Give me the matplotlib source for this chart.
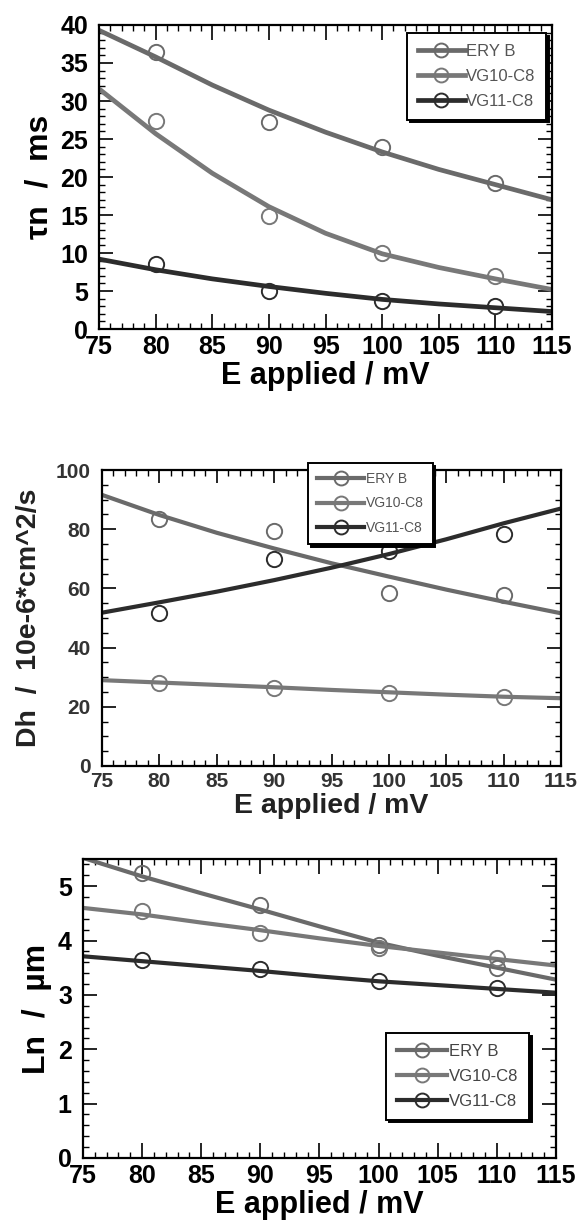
import matplotlib
matplotlib.use("Agg")
import matplotlib.pyplot as plt
from matplotlib.ticker import MultipleLocator

# ---------------- data ----------------
series_names = ["ERY B", "VG10-C8", "VG11-C8"]
series_colors = ["#6a6a6a", "#787878", "#2c2c2c"]

x_pts = [80, 90, 100, 110]
x_fit = [75, 80, 85, 90, 95, 100, 105, 110, 115]

# Panel 1: tau_n / ms
tau_pts = {
    "ERY B":   [36.5, 27.2, 24.0, 19.2],
    "VG10-C8": [27.4, 14.9, 10.0, 7.0],
    "VG11-C8": [8.5, 5.0, 3.7, 3.05],
}
tau_fit = {
    "ERY B":   [39.3, 35.8, 32.1, 28.8, 25.9, 23.3, 21.0, 19.0, 17.0],
    "VG10-C8": [31.6, 25.7, 20.5, 16.1, 12.6, 9.9, 8.1, 6.6, 5.2],
    "VG11-C8": [9.2, 7.8, 6.6, 5.6, 4.7, 3.9, 3.3, 2.8, 2.3],
}

# Panel 2: Dh / 10e-6 cm^2/s
dh_pts = {
    "ERY B":   [83.3, 79.4, 58.6, 57.8],
    "VG10-C8": [27.9, 26.2, 24.5, 23.4],
    "VG11-C8": [51.6, 69.9, 72.6, 78.4],
}
dh_fit = {
    "ERY B":   [91.6, 84.8, 78.8, 73.5, 68.5, 64.0, 59.6, 55.5, 51.6],
    "VG10-C8": [29.0, 28.2, 27.4, 26.6, 25.7, 24.9, 24.1, 23.4, 22.9],
    "VG11-C8": [51.8, 55.3, 58.9, 62.8, 67.0, 71.6, 76.6, 82.0, 87.0],
}

# Panel 3: Ln / um
ln_pts = {
    "ERY B":   [5.24, 4.66, 3.91, 3.50],
    "VG10-C8": [4.54, 4.14, 3.87, 3.68],
    "VG11-C8": [3.64, 3.47, 3.25, 3.13],
}
ln_fit = {
    "ERY B":   [5.52, 5.18, 4.87, 4.57, 4.26, 3.96, 3.72, 3.50, 3.28],
    "VG10-C8": [4.60, 4.48, 4.33, 4.19, 4.04, 3.90, 3.78, 3.66, 3.54],
    "VG11-C8": [3.71, 3.62, 3.53, 3.44, 3.34, 3.25, 3.18, 3.11, 3.04],
}

x_ticks = [75, 80, 85, 90, 95, 100, 105, 110, 115]

FAM = ["Liberation Sans", "DejaVu Sans"]

fig = plt.figure(figsize=(5.77, 12.25), dpi=100)
fig.patch.set_facecolor("white")


def style_axes(ax, ymax, ymajor, yminor, tick_size, tick_color="black", xmajlen=11):
    ax.set_xlim(75, 115)
    ax.set_ylim(0, ymax)
    ax.set_xticks(x_ticks)
    ax.xaxis.set_minor_locator(MultipleLocator(1))
    ax.yaxis.set_major_locator(MultipleLocator(ymajor))
    ax.yaxis.set_minor_locator(MultipleLocator(yminor))
    ax.tick_params(which="both", direction="in", top=True, right=True)
    ax.tick_params(axis="x", which="major", length=xmajlen, width=1.2, pad=4)
    ax.tick_params(axis="y", which="major", length=10, width=1.2, pad=8)
    ax.tick_params(which="minor", length=4.5, width=1.0)
    for sp in ax.spines.values():
        sp.set_linewidth(1.6)
    for lab in ax.get_xticklabels() + ax.get_yticklabels():
        lab.set_fontfamily(FAM)
        lab.set_fontweight("bold")
        lab.set_fontsize(tick_size)
        lab.set_color(tick_color)


def draw(ax, pts, fit, lw):
    handles = []
    for name, col in zip(series_names, series_colors):
        ax.plot(x_fit, fit[name], color=col, lw=lw, solid_capstyle="butt", zorder=2)
        ax.plot(x_pts, pts[name], ls="none", marker="o", ms=11, mfc="none",
                mec=col, mew=1.4, zorder=3)
        h, = ax.plot([], [], color=col, lw=lw, marker="o", ms=10, mfc="none",
                     mec=col, mew=1.4)
        handles.append(h)
    return handles


def legend(ax, handles, anchor, fsize, hlen, tcolor, lspace):
    leg = ax.legend(handles, series_names, loc="upper left", bbox_to_anchor=anchor,
                    frameon=True, fancybox=False,
                    shadow={"color": "black", "alpha": 1.0},
                    edgecolor="black", framealpha=1, handlelength=hlen,
                    handletextpad=0.1, labelspacing=lspace, borderpad=0.65,
                    borderaxespad=0.0,
                    prop={"family": FAM, "size": fsize})
    leg.get_frame().set_linewidth(1.4)
    for t in leg.get_texts():
        t.set_color(tcolor)
    leg.set_zorder(5)
    return leg


# ---------------- Panel 1 ----------------
ax1 = fig.add_axes([0.1716, 0.7314, 0.7851, 0.2482])
h1 = draw(ax1, tau_pts, tau_fit, 3.4)
style_axes(ax1, 40, 5, 1, 18)
legend(ax1, h1, (0.680, 0.974), 12, 2.8, "#555555", 0.6)
ax1.set_xlabel("E applied / mV", fontfamily=FAM, fontweight="bold", fontsize=22, labelpad=2)
ax1.set_ylabel("τn  /  ms", fontfamily=FAM, fontweight="bold", fontsize=23, labelpad=4)

# ---------------- Panel 2 ----------------
ax2 = fig.add_axes([0.1768, 0.3747, 0.7955, 0.2416])
h2 = draw(ax2, dh_pts, dh_fit, 3.0)
style_axes(ax2, 100, 20, 5, 15, tick_color="#333333", xmajlen=9)
legend(ax2, h2, (0.449, 1.024), 10, 3.4, "#555555", 0.75)
ax2.set_xlabel("E applied / mV", fontfamily=FAM, fontweight="bold", fontsize=20.5,
               color="#222222", labelpad=2)
ax2.set_ylabel("Dh  /  10e-6*cm^2/s", fontfamily=FAM, fontweight="bold", fontsize=20.5,
               color="#222222", labelpad=10)

# ---------------- Panel 3 ----------------
ax3 = fig.add_axes([0.1438, 0.0547, 0.8198, 0.2441])
h3 = draw(ax3, ln_pts, ln_fit, 3.0)
style_axes(ax3, 5.5, 1, 0.2, 18)
legend(ax3, h3, (0.641, 0.418), 12, 3.0, "#444444", 0.6)
ax3.set_xlabel("E applied / mV", fontfamily=FAM, fontweight="bold", fontsize=22, labelpad=2)
ax3.set_ylabel("Ln  /  µm", fontfamily=FAM, fontweight="bold", fontsize=23, labelpad=4)

fig.savefig("out.png", dpi=100)
